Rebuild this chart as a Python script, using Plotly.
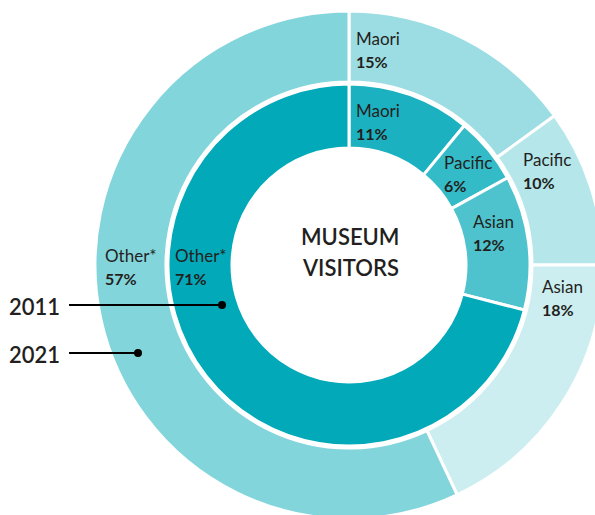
import plotly.graph_objects as go

# ---------------- data ----------------
categories = ["Maori", "Pacific", "Asian", "Other*"]
values_2021 = [15, 10, 18, 57]   # outer ring
values_2011 = [11, 6, 12, 71]    # inner ring
years = ["2011", "2021"]
center_title = ["MUSEUM", "VISITORS"]

# ---------------- style ----------------
colors_2021 = ["#9BDDE3", "#B4E6EA", "#CDEEF1", "#83D5DC"]
colors_2011 = ["#1BB1C0", "#34BBC8", "#4EC3CD", "#02A9B9"]
TXT = "#231F20"
FONT = "Lato"

W, H = 610, 525            # figure slightly larger than the window -> ring cropped like the reference
CX, CY = 349, 265          # ring centre (px)
R_OUT, R_OUT_HOLE = 254, 183
R_IN, R_IN_HOLE = 181, 117


def dom(r):
    return dict(x=[(CX - r) / W, (CX + r) / W],
                y=[1 - (CY + r) / H, 1 - (CY - r) / H])


fig = go.Figure()
fig.add_trace(go.Pie(
    values=values_2021, labels=categories, sort=False, direction="clockwise",
    rotation=0, hole=R_OUT_HOLE / R_OUT, domain=dom(R_OUT),
    marker=dict(colors=colors_2021, line=dict(color="white", width=3)),
    textinfo="none", showlegend=False, name="2021"))
fig.add_trace(go.Pie(
    values=values_2011, labels=categories, sort=False, direction="clockwise",
    rotation=0, hole=R_IN_HOLE / R_IN, domain=dom(R_IN),
    marker=dict(colors=colors_2011, line=dict(color="white", width=3)),
    textinfo="none", showlegend=False, name="2011"))

# label anchor positions (left edge, name-line centre), px
pos_2021 = [(354, 38), (521, 159), (540, 286), (103, 255)]
pos_2011 = [(354, 110), (442, 162), (471, 221), (173, 255)]

ann = []
for vals, poss in ((values_2021, pos_2021), (values_2011, pos_2011)):
    for cat, v, (x, y) in zip(categories, vals, poss):
        ann.append(dict(x=x, y=y, xref="x", yref="y", text=cat, showarrow=False,
                        xanchor="left", yanchor="middle",
                        font=dict(family=FONT, size=17, color=TXT)))
        ann.append(dict(x=x, y=y + 23, xref="x", yref="y", text=f"<b>{v}%</b>",
                        showarrow=False, xanchor="left", yanchor="middle",
                        font=dict(family=FONT, size=16, color=TXT)))

for i, t in enumerate(center_title):
    ann.append(dict(x=CX + 1, y=236 + i * 31, xref="x", yref="y", text=t, showarrow=False,
                    xanchor="center", yanchor="middle",
                    font=dict(family=FONT, size=22, color=TXT, weight=600)))

# year callouts
year_y = [305, 353]
dot_x = [222, 138]
shapes = []
for yr, yy, dx in zip(years, year_y, dot_x):
    ann.append(dict(x=62, y=yy + 1, xref="x", yref="y", text=yr, showarrow=False,
                    xanchor="right", yanchor="middle",
                    font=dict(family=FONT, size=22, color=TXT, weight=600)))
    shapes.append(dict(type="line", xref="x", yref="y", x0=69, x1=dx, y0=yy, y1=yy,
                       line=dict(color="black", width=2)))
    shapes.append(dict(type="circle", xref="x", yref="y", x0=dx - 4, x1=dx + 4,
                       y0=yy - 4, y1=yy + 4, fillcolor="black",
                       line=dict(color="black", width=0)))

fig.update_layout(
    width=W, height=H, margin=dict(l=0, r=0, t=0, b=0),
    paper_bgcolor="white", plot_bgcolor="rgba(0,0,0,0)",
    xaxis=dict(range=[0, W], visible=False, fixedrange=True, domain=[0, 1]),
    yaxis=dict(range=[H, 0], visible=False, fixedrange=True, domain=[0, 1]),
    annotations=ann, shapes=shapes,
)

# remove the browser's default 8px page margin so the chart sits at the window origin
fig.write_html(
    "out.html",
    config={"displayModeBar": False},
    post_script="document.body.style.margin='0';document.body.style.overflow='hidden';"
                "document.documentElement.style.overflow='hidden';",
)
